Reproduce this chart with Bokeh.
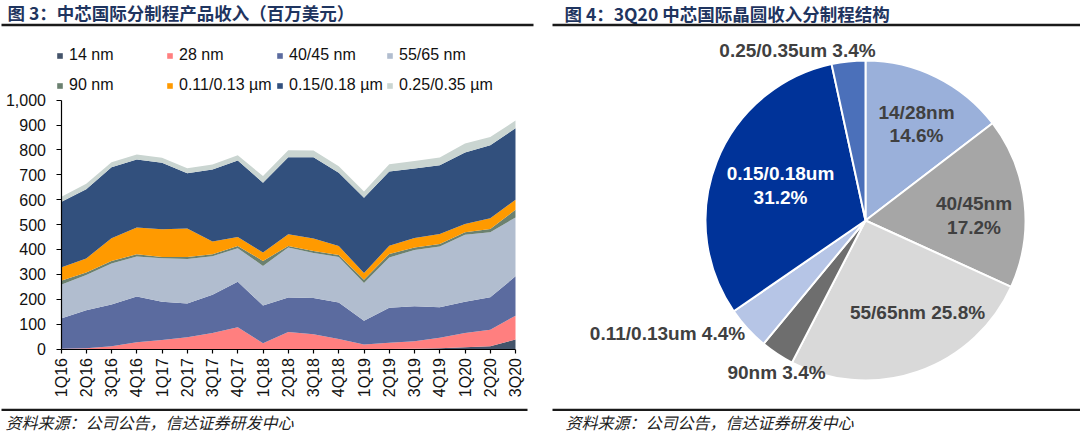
import math
import numpy as np
from bokeh.plotting import figure
from bokeh.models import (ColumnDataSource, Range1d, FixedTicker, NumeralTickFormatter,
                          Legend, LegendItem, Label, BoxAnnotation, LinearAxis)
from bokeh.core.properties import value
from bokeh.embed import file_html
from bokeh.resources import INLINE

# ---------------- data ----------------
quarters = ["1Q16", "2Q16", "3Q16", "4Q16", "1Q17", "2Q17", "3Q17", "4Q17", "1Q18", "2Q18",
            "3Q18", "4Q18", "1Q19", "2Q19", "3Q19", "4Q19", "1Q20", "2Q20", "3Q20"]
rev_14nm = [0, 0, 0, 0, 0, 0, 0, 0, 0, 0, 0, 0, 0, 0, 1, 3, 7, 11, 38]
rev_28nm = [1, 3, 11, 27, 36, 47, 64, 87, 23, 68, 59, 40, 18, 25, 30, 42, 57, 66, 96]
rev_40_45 = [122, 153, 168, 184, 154, 136, 154, 183, 152, 139, 146, 147, 96, 141, 141, 123, 126, 131, 158]
rev_55_65 = [135, 141, 165, 161, 175, 179, 155, 135, 159, 201, 181, 183, 151, 202, 226, 244, 269, 261, 237]
rev_90nm = [16, 10, 10, 9, 5, 8, 8, 9, 20, 6, 8, 8, 13, 14, 10, 10, 10, 13, 31]
rev_011_013 = [54, 57, 91, 107, 111, 114, 51, 36, 34, 47, 50, 36, 27, 33, 38, 40, 33, 44, 40]
rev_015_018 = [263, 278, 286, 274, 268, 222, 289, 308, 280, 310, 327, 294, 303, 298, 279, 277, 288, 293, 287]
rev_025_035 = [20, 22, 20, 20, 20, 20, 21, 21, 27, 28, 27, 27, 25, 30, 31, 31, 36, 33, 31]
series_names = ["14 nm", "28 nm", "40/45 nm", "55/65 nm", "90 nm",
                "0.11/0.13 µm", "0.15/0.18 µm", "0.25/0.35 µm"]
y_ticks = [0, 100, 200, 300, 400, 500, 600, 700, 800, 900, 1000]

pie_labels = ["14/28nm", "40/45nm", "55/65nm", "90nm", "0.11/0.13um", "0.15/0.18um", "0.25/0.35um"]
pie_pct = [14.6, 17.2, 25.8, 3.4, 4.4, 31.2, 3.4]

# ---------------- styles ----------------
area_colors = ["#44546A", "#FF7F7F", "#5B6B9F", "#B1BDCF", "#6B8170",
               "#FF9A00", "#32507D", "#CAD5D1"]
pie_colors = ["#9AB0DA", "#A6A6A6", "#D9D9D9", "#6E6E6E", "#B6C5E6", "#003399", "#4B70BA"]
TITLE_COLOR = "#1F3560"
LINE_COLOR = "#1a1a1a"
CJK = "Noto Sans CJK SC"
LAT = "Liberation Sans"

# ---------------- canvas / layout geometry (px, page coords) ----------------
W, H = 1080, 433
AX_L, AX_R = 60.5, 515.0     # x pixel of 1Q16 / 3Q20
AX_B, AX_T = 348.5, 99.7     # y pixel (from top) of 0 / 1000
nq = len(quarters) - 1
xs = nq / (AX_R - AX_L)
ys = 1000 / (AX_B - AX_T)
x_range = Range1d(-AX_L * xs, (W - AX_L) * xs)
y_range = Range1d(-(H - AX_B) * ys, 1000 + AX_T * ys)

p = figure(width=W, height=H, x_range=x_range, y_range=y_range,
           output_backend="svg", toolbar_location=None, title=None,
           x_axis_location=None, y_axis_location=None, min_border=0)
p.grid.visible = False
p.outline_line_color = None
p.extra_x_ranges = {"px": Range1d(0, W)}
p.extra_y_ranges = {"py": Range1d(0, H)}

# ---------------- stacked area ----------------
keys = ["s%d" % i for i in range(8)]
src = ColumnDataSource(dict(x=list(range(len(quarters))),
                            s0=rev_14nm, s1=rev_28nm, s2=rev_40_45, s3=rev_55_65,
                            s4=rev_90nm, s5=rev_011_013, s6=rev_015_018, s7=rev_025_035))
rends = p.varea_stack(stackers=keys, x="x", color=area_colors, source=src)

yax = LinearAxis(fixed_location=0, bounds=(0, 1000))
xax = LinearAxis(fixed_location=0, bounds=(0, nq))
for ax in (xax, yax):
    ax.axis_line_color = "#000000"
    ax.axis_line_width = 1.2
    ax.major_tick_line_color = "#000000"
    ax.major_tick_line_width = 1.2
    ax.major_tick_in = 0
    ax.minor_tick_line_color = None
    ax.major_label_text_font = LAT
    ax.major_label_text_font_size = "16px"
    ax.major_label_text_color = "#111111"
yax.ticker = FixedTicker(ticks=y_ticks)
yax.formatter = NumeralTickFormatter(format="0,0")
yax.major_tick_out = 5
yax.major_label_standoff = 10
xax.ticker = FixedTicker(ticks=list(range(len(quarters))))
xax.major_label_overrides = {i: q for i, q in enumerate(quarters)}
xax.major_label_orientation = math.pi / 2
xax.major_tick_out = 4
xax.major_label_standoff = 5
p.add_layout(yax, "left")
p.add_layout(xax, "below")

legend_cols = [[0, 4], [1, 5], [2, 6], [3, 7]]
legend_x = [56, 166, 276, 386]
for col, lx in zip(legend_cols, legend_x):
    items = [LegendItem(label=series_names[i], renderers=[rends[i]]) for i in col]
    lg = Legend(items=items, location=(lx, H - 95), orientation="vertical",
                glyph_width=7, glyph_height=7, label_standoff=6, spacing=10,
                padding=0, margin=0, label_height=20,
                label_text_font=LAT, label_text_font_size="16px", label_text_color="#111111",
                border_line_color=None, background_fill_alpha=0)
    p.add_layout(lg)

# ---------------- pie ----------------
cx, cy, R = 865, H - 220, 160
frac = np.array(pie_pct) / np.sum(pie_pct)
cum = np.cumsum(frac)
start = math.pi / 2 - 2 * math.pi * (cum - frac)
end = math.pi / 2 - 2 * math.pi * cum
psrc = ColumnDataSource(dict(start=start, end=end, color=pie_colors, label=pie_labels))
p.wedge(x=cx, y=cy, radius=R, start_angle="start", end_angle="end", direction="clock",
        fill_color="color", line_color="white", line_width=2, source=psrc,
        x_range_name="px", y_range_name="py")

# label placement (offset from centre, px) -- layout only
label_layout = [
    ("two", 51, 108, 85, "#404040"),
    ("two", 108.5, 17, -7, "#404040"),
    ("one", 52, -92, None, "#404040"),
    ("one", -89, -152, None, "#404040"),
    ("one", -198, -113, None, "#404040"),
    ("two", -85, 47, 23, "#FFFFFF"),
    ("one", -68, 170, None, "#404040"),
]
tx, ty, tt, tc = [], [], [], []
for lab, pct, (mode, dx, dy1, dy2, col) in zip(pie_labels, pie_pct, label_layout):
    if mode == "two":
        tx += [cx + dx, cx + dx]
        ty += [cy + dy1, cy + dy2]
        tt += [lab, "%.1f%%" % pct]
        tc += [col, col]
    else:
        tx.append(cx + dx)
        ty.append(cy + dy1)
        tt.append("%s %.1f%%" % (lab, pct))
        tc.append(col)
p.text(x=tx, y=ty, text=tt, text_color=tc, text_font=value(LAT), text_font_size="19px",
       text_font_style="bold", text_align="center", text_baseline="middle",
       x_range_name="px", y_range_name="py")

# ---------------- titles, rules, footers ----------------
def scr_label(x, y, text, size, style, color, font=CJK):
    p.add_layout(Label(x=x, y=H - y, x_units="screen", y_units="screen", text=text,
                       text_font=font, text_font_size=size, text_font_style=style,
                       text_color=color, text_baseline="middle", text_align="left"))

def scr_rule(l, r, top, bottom):
    p.add_layout(BoxAnnotation(left=l, right=r, bottom=H - bottom, top=H - top,
                               left_units="screen", right_units="screen",
                               top_units="screen", bottom_units="screen",
                               fill_color=LINE_COLOR, fill_alpha=1, line_color=None))

scr_label(7, 11.5, "图 3：中芯国际分制程产品收入（百万美元）", "17.5px", "bold", TITLE_COLOR)
scr_label(564, 13, "图 4：3Q20 中芯国际晶圆收入分制程结构", "17.5px", "bold", TITLE_COLOR)
scr_rule(1, 533, 23.2, 25.8)
scr_rule(552, W, 23.2, 25.8)
scr_rule(1, 527, 408.3, 410.4)
scr_rule(552, W, 408.3, 410.4)
scr_label(5, 421.5, "资料来源：公司公告，信达证券研发中心", "16px", "italic", "#222222")
scr_label(565, 421, "资料来源：公司公告，信达证券研发中心", "16px", "italic", "#222222")

open("out.html", "w").write(file_html(p, INLINE))
